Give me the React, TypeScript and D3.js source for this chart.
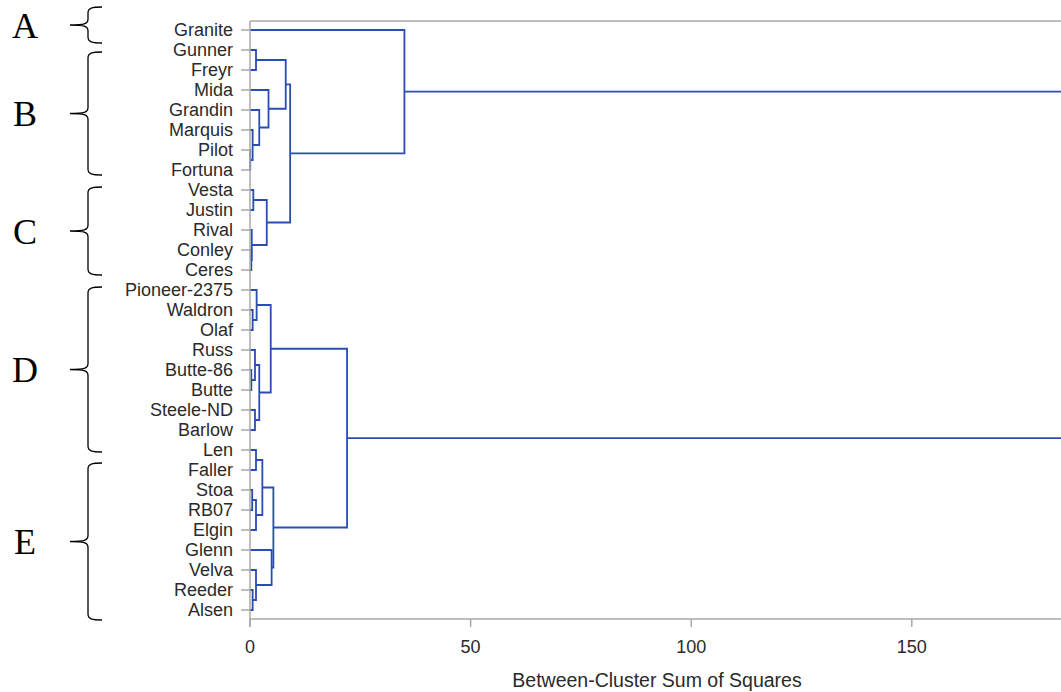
import React from "react";
import * as d3 from "d3";

// leaf order, top to bottom
const leaves = [
  "Granite", "Gunner", "Freyr", "Mida", "Grandin", "Marquis", "Pilot", "Fortuna",
  "Vesta", "Justin", "Rival", "Conley", "Ceres",
  "Pioneer-2375", "Waldron", "Olaf", "Russ", "Butte-86", "Butte", "Steele-ND", "Barlow",
  "Len", "Faller", "Stoa", "RB07", "Elgin", "Glenn", "Velva", "Reeder", "Alsen",
];

// cluster history: [left, right, between-cluster SS]; the n-th row makes CLn
const joins: [string, string, number][] = [
  ["Pilot", "Fortuna", 0.05],
  ["Marquis", "CL1", 0.6],
  ["Grandin", "CL2", 2.1],
  ["Mida", "CL3", 4.2],
  ["Gunner", "Freyr", 1.36],
  ["CL5", "CL4", 8.1],
  ["Vesta", "Justin", 0.75],
  ["Conley", "Ceres", 0.3],
  ["Rival", "CL8", 0.4],
  ["CL7", "CL9", 3.8],
  ["CL6", "CL10", 9.1],
  ["Granite", "CL11", 35.0],
  ["Waldron", "Olaf", 0.6],
  ["Pioneer-2375", "CL13", 1.5],
  ["Butte-86", "Butte", 0.3],
  ["Russ", "CL15", 1.13],
  ["Steele-ND", "Barlow", 1.13],
  ["CL16", "CL17", 2.1],
  ["CL14", "CL18", 4.7],
  ["Len", "Faller", 1.36],
  ["Stoa", "RB07", 0.5],
  ["CL21", "Elgin", 1.36],
  ["CL20", "CL22", 2.8],
  ["Reeder", "Alsen", 0.6],
  ["Velva", "CL24", 1.36],
  ["Glenn", "CL25", 4.9],
  ["CL23", "CL26", 5.3],
  ["CL19", "CL27", 22.0],
  ["CL12", "CL28", 184.5],
];

const xTicks = [0, 50, 100, 150];
const groupLetters = ["A", "B", "C", "D", "E"];

const W = 1061;
const H = 692;
const blue = "#2a4db2";
const grey = "#a9a9a9";

// hand placed braces (pixel spans), as in the annotated figure
const braceSpans = [[7, 43], [52, 175], [187, 275], [287, 452], [463, 620]];

function bracePath(top: number, bottom: number) {
  const mid = (top + bottom) / 2;
  const xv = 88, xe = 102, xt = 70;
  return `M${xe},${top} C${xv + 4},${top} ${xv},${top + 1} ${xv},${top + 6}` +
    ` L${xv},${mid - 6} C${xv},${mid - 1} ${xv - 4},${mid} ${xt},${mid}` +
    ` M${xt},${mid} C${xv - 4},${mid} ${xv},${mid + 1} ${xv},${mid + 6}` +
    ` L${xv},${bottom - 6} C${xv},${bottom - 1} ${xv + 4},${bottom} ${xe},${bottom}`;
}

export default function App() {
  const plotTop = 21, plotBottom = 619, left = 250;
  const y = d3.scalePoint<string>().domain(leaves).range([30, 610]);
  const rootHeight = joins[joins.length - 1][2];
  const x = d3.scaleLinear().domain([0, rootHeight]).range([left, 1064]);

  const pos = new Map<string, { h: number; y: number }>();
  leaves.forEach((l) => pos.set(l, { h: 0, y: y(l) as number }));
  const links: string[] = [];
  joins.forEach(([a, b, h], i) => {
    const pa = pos.get(a)!;
    const pb = pos.get(b)!;
    pos.set(`CL${i + 1}`, { h, y: (pa.y + pb.y) / 2 });
    links.push(`M${x(pa.h)},${pa.y} H${x(h)} V${pb.y} H${x(pb.h)}`);
  });

  const font = "'Liberation Sans', Arial, sans-serif";

  return (
    <svg width={W} height={H} style={{ position: "absolute", left: 0, top: 0, background: "#fff" }}>
      {/* dendrogram */}
      <g fill="none" stroke={blue} strokeWidth={1.8}>
        {links.map((d, i) => (
          <path key={i} d={d} />
        ))}
      </g>

      {/* frame and axes */}
      <g stroke={grey} strokeWidth={1.5} fill="none">
        <line x1={left} x2={W} y1={plotTop} y2={plotTop} />
        <line x1={left} x2={left} y1={plotTop} y2={plotBottom + 8} />
        <line x1={left} x2={W} y1={plotBottom} y2={plotBottom} />
        {xTicks.map((t) => (
          <line key={t} x1={x(t)} x2={x(t)} y1={plotBottom} y2={plotBottom + 8} />
        ))}
        {leaves.map((l) => (
          <line key={l} x1={left - 9} x2={left} y1={y(l)} y2={y(l)} />
        ))}
      </g>

      <g fontFamily={font} fontSize={18} fill="#2a2a2a">
        {leaves.map((l) => (
          <text key={l} x={left - 17} y={y(l)} dy="0.35em" textAnchor="end">
            {l}
          </text>
        ))}
        {xTicks.map((t) => (
          <text key={t} x={x(t)} y={plotBottom + 34} textAnchor="middle">
            {t}
          </text>
        ))}
        <text x={(left + 1064) / 2} y={687} textAnchor="middle" fontSize={19.5}>
          Between-Cluster Sum of Squares
        </text>
      </g>

      {/* group braces */}
      <g>
        {braceSpans.map(([t, b], i) => (
          <g key={groupLetters[i]}>
            <path d={bracePath(t, b)} fill="none" stroke="#000" strokeWidth={1.3} />
            <text
              x={25}
              y={(t + b) / 2}
              dy="0.35em"
              textAnchor="middle"
              fontFamily="'Liberation Serif', 'Times New Roman', serif"
              fontSize={36}
              fill="#000"
            >
              {groupLetters[i]}
            </text>
          </g>
        ))}
      </g>
    </svg>
  );
}
